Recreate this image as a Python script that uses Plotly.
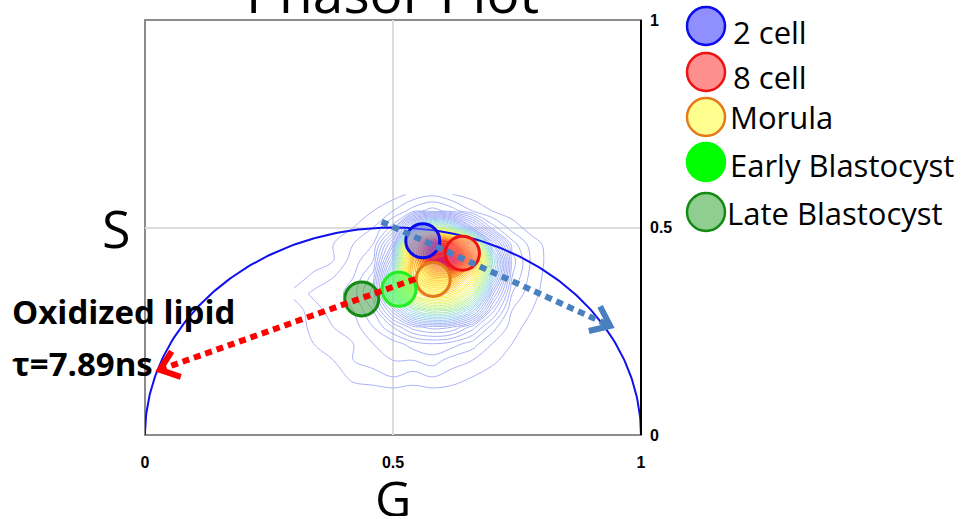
import math
import plotly.graph_objects as go

# ---- data -------------------------------------------------------------
stage_names = ["2 cell", "8 cell", "Morula", "Early Blastocyst", "Late Blastocyst"]
stage_g = [0.560, 0.640, 0.581, 0.512, 0.437]
stage_s = [0.468, 0.438, 0.375, 0.351, 0.328]
stage_fill = ["rgba(110,110,255,0.55)", "rgba(255,110,110,0.55)", "rgba(255,255,130,0.55)",
              "rgba(60,255,60,0.55)", "rgba(70,160,70,0.55)"]
stage_edge = ["#0a0aee", "#ee1111", "#e57a1a", "#22ee22", "#138a13"]
legend_fill = ["#8f8fff", "#ff8f8f", "#ffff8f", "#00ff00", "#8fce8f"]
legend_edge = ["#0a0aee", "#ee1111", "#e57a1a", "#00ff00", "#138a13"]

# phasor density map (G columns, S rows)
grid_g = [0.30, 0.34, 0.38, 0.42, 0.46, 0.50, 0.54, 0.58, 0.62, 0.66, 0.70, 0.74, 0.78, 0.82]
grid_s = [0.10, 0.14, 0.18, 0.22, 0.26, 0.30, 0.34, 0.38, 0.42, 0.46, 0.50, 0.54, 0.58]
density = [
    [0, 0, 0, 0, 0, 0, 0, 0, 0, 0, 0, 0, 0, 0],
    [0, 0, 0, 1.5, 2, 3, 2, 3, 2, 1, 0, 0, 0, 0],
    [0, 0, 1, 3, 4, 5, 5, 6, 4, 3, 1.5, 0, 0, 0],
    [0, 1, 2.5, 3, 5, 6, 8, 9, 8, 6, 3, 1, 0, 0],
    [0, 1.5, 3, 4, 7, 11, 16, 18, 17, 12, 6, 2, 0, 0],
    [0, 2, 4, 5, 9, 20, 34, 40, 38, 28, 12, 3, 1, 0],
    [1.5, 3.5, 4, 6, 12, 32, 55, 62, 60, 45, 20, 5, 1.5, 0],
    [0, 1.5, 3, 5, 10, 34, 70, 80, 78, 60, 30, 7, 2, 0],
    [0, 0, 1, 4, 7, 26, 72, 96, 100, 76, 34, 8, 2.5, 0],
    [0, 0, 1, 3, 5, 18, 70, 92, 88, 56, 22, 6, 2, 0],
    [0, 0, 0, 1, 3, 8, 30, 45, 35, 18, 6, 2, 0, 0],
    [0, 0, 0, 0, 1, 3, 6, 8, 6, 3, 1, 0, 0, 0],
    [0, 0, 0, 0, 0, 0, 1.5, 2.5, 1, 0, 0, 0, 0, 0],
]

# trajectories: [start, end] in (G, S)
lipid_arrow_g = [0.545, 0.030]
lipid_arrow_s = [0.376, 0.157]
shift_arrow_g = [0.477, 0.938]
shift_arrow_s = [0.514, 0.263]

axis_ticks = [0, 0.5, 1]
axis_ticktext = ["0", "0.5", "1"]

# ---- layout geometry (pixels) ----------------------------------------
W, H = 967, 519
ML, MR, MT, MB = 145, 326, 20, 84
PW, PH = W - ML - MR, H - MT - MB
FONT = "Open Sans"


def px_x(p):
    return (p - ML) / PW


def px_y(p):
    return (H - MB - p) / PH


fig = go.Figure()

# soft colour wash under the dense core
fig.add_trace(go.Contour(
    x=grid_g, y=grid_s, z=density,
    contours=dict(start=40, end=100, size=4, coloring="fill"),
    zmin=0, zmax=100,
    colorscale=[[0, "rgba(255,255,255,0)"], [0.4, "rgba(255,255,255,0)"],
                [0.45, "rgba(255,255,170,0.35)"], [0.6, "rgba(255,240,80,0.55)"],
                [0.75, "rgba(255,170,40,0.65)"], [0.88, "rgba(240,40,50,0.75)"],
                [1, "rgba(200,20,120,0.85)"]],
    line=dict(width=0, smoothing=1.0),
    showscale=False, hoverinfo="skip",
))

# density contour lines
fig.add_trace(go.Contour(
    x=grid_g, y=grid_s, z=density,
    contours=dict(start=1, end=100, size=2, coloring="lines"),
    zmin=0, zmax=100,
    colorscale=[[0, "#aab3f6"], [0.2, "#a6b0f4"], [0.3, "#9fd8f0"], [0.4, "#b4f0a4"],
                [0.5, "#e4f47a"], [0.6, "#ffee50"], [0.75, "#ffa030"], [0.88, "#f42828"],
                [1, "#d0107a"]],
    line=dict(width=1, smoothing=1.0),
    showscale=False, hoverinfo="skip",
))

# universal semicircle
theta = [math.pi * i / 200 for i in range(201)]
fig.add_trace(go.Scatter(
    x=[0.5 + 0.5 * math.cos(t) for t in theta],
    y=[0.5 * math.sin(t) for t in theta],
    mode="lines", line=dict(color="#1010ee", width=2), hoverinfo="skip",
))

# stage centroids
for name, g, s, fc, ec in zip(stage_names, stage_g, stage_s, stage_fill, stage_edge):
    fig.add_trace(go.Scatter(
        x=[g], y=[s], mode="markers", name=name,
        marker=dict(size=34, color=fc, line=dict(color=ec, width=3)),
    ))


def arrow(gx, sy, color, width):
    fig.add_trace(go.Scatter(
        x=gx, y=sy, mode="lines",
        line=dict(color=color, width=width, dash="7px,5px"), hoverinfo="skip",
    ))
    # open chevron head built in pixel space at the end point
    dx = (gx[1] - gx[0]) * PW
    dy = (sy[1] - sy[0]) * PH
    n = math.hypot(dx, dy)
    ux, uy = -dx / n, -dy / n
    arm, ang = 22, math.radians(38)
    hx, hy = [], []
    for sgn in (1, None, -1):
        if sgn is None:
            hx.append(gx[1]); hy.append(sy[1]); continue
        c, s_ = math.cos(sgn * ang), math.sin(sgn * ang)
        rx, ry = ux * c - uy * s_, ux * s_ + uy * c
        hx.append(gx[1] + rx * arm / PW)
        hy.append(sy[1] + ry * arm / PH)
    fig.add_trace(go.Scatter(x=hx, y=hy, mode="lines",
                             line=dict(color=color, width=width), hoverinfo="skip"))


arrow(lipid_arrow_g, lipid_arrow_s, "#ff0000", 6)
arrow(shift_arrow_g, shift_arrow_s, "#4a7fc0", 6)

shapes = [
    # plot frame
    dict(type="rect", xref="paper", yref="paper", x0=0, y0=0, x1=1, y1=1,
         line=dict(color="#8c8c8c", width=2), layer="below"),
    dict(type="line", xref="paper", yref="paper", x0=1, y0=0, x1=1, y1=1,
         line=dict(color="#000000", width=2)),
]


def label(text, x, y, size, anchor="center", **kw):
    return dict(text=text, x=px_x(x), y=px_y(y), xref="paper", yref="paper",
                xanchor=anchor, yanchor="middle", showarrow=False,
                font=dict(family=FONT, size=size, color="black"), **kw)


annotations = [
    label("Phasor Plot", 392, -8, 55),
    label("S", 116, 228, 52),
    label("G", 393, 498, 50, height=36),
    label("<b>Oxidized lipid</b>", 10, 311, 33, "left"),
    label("<b>τ=7.89ns</b>", 10, 363, 33, "left"),
]

# legend built from circles and labels
legend_cy = [26, 72, 117, 162, 212]
legend_tx = [731, 731, 728, 728, 725]
legend_ty = [32, 77, 117, 165, 213]
for name, fc, ec, cy, tx, ty in zip(stage_names, legend_fill, legend_edge,
                                    legend_cy, legend_tx, legend_ty):
    shapes.append(dict(type="circle", xref="paper", yref="paper",
                       xsizemode="pixel", ysizemode="pixel",
                       xanchor=px_x(706), yanchor=px_y(cy),
                       x0=-19, x1=19, y0=-19, y1=19,
                       fillcolor=fc, line=dict(color=ec, width=2.5)))
    annotations.append(label(name, tx, ty, 31, "left"))

tick_font = dict(family="Liberation Sans", size=16, color="black", weight="bold")
fig.update_layout(
    width=W, height=H,
    margin=dict(l=ML, r=MR, t=MT, b=MB),
    paper_bgcolor="white", plot_bgcolor="white",
    showlegend=False,
    shapes=shapes, annotations=annotations,
    xaxis=dict(range=[0, 1], tickvals=axis_ticks, ticktext=axis_ticktext,
               showgrid=True, gridcolor="#dcdcdc", gridwidth=1.5, zeroline=False,
               showline=False, ticks="", ticklabelstandoff=16, tickfont=tick_font),
    yaxis=dict(range=[0, 1], tickvals=axis_ticks, ticktext=axis_ticktext, side="right",
               showgrid=True, gridcolor="#dcdcdc", gridwidth=1.5, zeroline=False,
               showline=False, ticks="", ticklabelstandoff=8, tickfont=tick_font),
)

fig.write_html("out.html")
